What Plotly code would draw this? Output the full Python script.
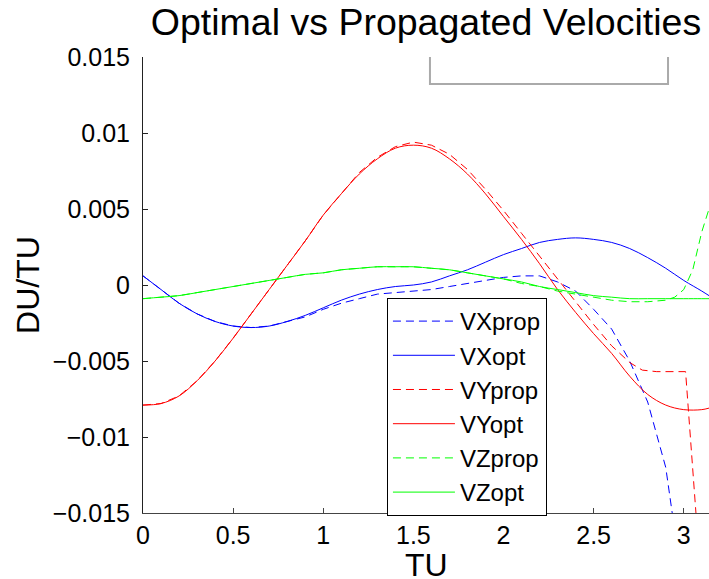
import plotly.graph_objects as go

# ---- data ----
t_opt = [0.0, 0.1, 0.2, 0.3, 0.4, 0.5, 0.6, 0.7, 0.8, 0.9, 1.0, 1.1, 1.2, 1.3, 1.4, 1.5,
         1.6, 1.7, 1.8, 1.9, 2.0, 2.1, 2.2, 2.3, 2.4, 2.5, 2.6, 2.7, 2.8, 2.9, 3.0, 3.1, 3.14]

vx_opt = [0.0006, -0.0003, -0.0012, -0.0019, -0.0024, -0.0027, -0.0028, -0.0027, -0.0024,
          -0.0020, -0.0015, -0.0010, -0.0006, -0.0003, -0.0001, 0.0000, 0.0002, 0.0006,
          0.0010, 0.0015, 0.0020, 0.0024, 0.0028, 0.0030, 0.0031, 0.0030, 0.0028, 0.0024,
          0.0018, 0.0011, 0.0003, -0.0004, -0.0007]

vy_opt = [-0.0079, -0.0078, -0.0073, -0.0063, -0.0050, -0.0035, -0.0019, -0.0003, 0.0013,
          0.0029, 0.0046, 0.0060, 0.0073, 0.0083, 0.0090, 0.0092, 0.0090, 0.0083, 0.0073,
          0.0060, 0.0045, 0.0030, 0.0014, -0.0003, -0.0018, -0.0032, -0.0045, -0.0060,
          -0.0072, -0.0079, -0.0082, -0.0082, -0.0081]

vz_opt = [-0.0009, -0.0008, -0.0007, -0.0005, -0.0003, -0.0001, 0.0001, 0.0003, 0.0005,
          0.0007, 0.0008, 0.0010, 0.0011, 0.0012, 0.0012, 0.0012, 0.0011, 0.0010, 0.0008,
          0.0006, 0.0004, 0.0002, -0.0001, -0.0003, -0.0005, -0.0007, -0.0008, -0.0009,
          -0.0009, -0.0009, -0.0009, -0.0009, -0.0009]

t_vx_prop = [0.0, 0.1, 0.2, 0.3, 0.4, 0.5, 0.6, 0.7, 0.8, 0.9, 1.0, 1.1, 1.2, 1.3, 1.4, 1.5,
             1.6, 1.7, 1.8, 1.9, 2.0, 2.1, 2.2, 2.3, 2.4, 2.5, 2.6, 2.7, 2.8, 2.9, 2.93, 2.96]
vx_prop = [0.0006, -0.0003, -0.0012, -0.0019, -0.0024, -0.0027, -0.0028, -0.0027, -0.0024,
           -0.0021, -0.0016, -0.0012, -0.0009, -0.0006, -0.0005, -0.0004, -0.0003, -0.0001,
           0.0001, 0.0003, 0.0005, 0.0006, 0.0006, 0.0002, -0.0004, -0.0016, -0.0029,
           -0.0050, -0.0077, -0.0120, -0.0146, -0.0170]

t_vy_prop = [0.0, 0.1, 0.2, 0.3, 0.4, 0.5, 0.6, 0.7, 0.8, 0.9, 1.0, 1.1, 1.2, 1.3, 1.4, 1.5,
             1.6, 1.7, 1.8, 1.9, 2.0, 2.1, 2.2, 2.3, 2.4, 2.5, 2.6, 2.7, 2.77, 2.85, 3.01, 3.08]
vy_prop = [-0.0079, -0.0078, -0.0073, -0.0063, -0.0050, -0.0035, -0.0019, -0.0003, 0.0013,
           0.0029, 0.0046, 0.0060, 0.0074, 0.0084, 0.0091, 0.0094, 0.0092, 0.0086, 0.0076,
           0.0063, 0.0049, 0.0034, 0.0019, 0.0004, -0.0011, -0.0026, -0.0040, -0.0051,
           -0.0056, -0.0057, -0.0057, -0.0170]

t_vz_prop = [0.0, 0.1, 0.2, 0.3, 0.4, 0.5, 0.6, 0.7, 0.8, 0.9, 1.0, 1.1, 1.2, 1.3, 1.4, 1.5,
             1.6, 1.7, 1.8, 1.9, 2.0, 2.1, 2.2, 2.3, 2.4, 2.5, 2.6, 2.7, 2.8, 2.9, 2.95,
             3.0, 3.05, 3.1, 3.14]
vz_prop = [-0.0009, -0.0008, -0.0007, -0.0005, -0.0003, -0.0001, 0.0001, 0.0003, 0.0005,
           0.0007, 0.0008, 0.0010, 0.0011, 0.0012, 0.0012, 0.0012, 0.0011, 0.0010, 0.0008,
           0.0006, 0.0004, 0.0001, -0.0001, -0.0004, -0.0006, -0.0008, -0.0010, -0.0011,
           -0.0011, -0.0010, -0.0008, -0.0003, 0.0010, 0.0035, 0.0050]

y_tickvals = [-0.015, -0.01, -0.005, 0, 0.005, 0.01, 0.015]
y_ticktext = ["\u22120.015", "\u22120.01", "\u22120.005", "0", "0.005", "0.01", "0.015"]
x_tickvals = [0, 0.5, 1, 1.5, 2, 2.5, 3]
x_ticktext = ["0", "0.5", "1", "1.5", "2", "2.5", "3"]

BLUE, RED, GREEN = "#0000ff", "#ff0000", "#00ff00"
DASH = "8px,5px"
FONT = "Liberation Sans, Arial, sans-serif"

fig = go.Figure()
fig.add_trace(go.Scatter(x=t_vx_prop, y=vx_prop, mode="lines", name="VXprop",
                         line=dict(color=BLUE, width=1, dash=DASH)))
fig.add_trace(go.Scatter(x=t_opt, y=vx_opt, mode="lines", name="VXopt",
                         line=dict(color=BLUE, width=1), line_shape="spline"))
fig.add_trace(go.Scatter(x=t_vy_prop, y=vy_prop, mode="lines", name="VYprop",
                         line=dict(color=RED, width=1, dash=DASH)))
fig.add_trace(go.Scatter(x=t_opt, y=vy_opt, mode="lines", name="VYopt",
                         line=dict(color=RED, width=1), line_shape="spline"))
fig.add_trace(go.Scatter(x=t_vz_prop, y=vz_prop, mode="lines", name="VZprop",
                         line=dict(color=GREEN, width=1, dash=DASH)))
fig.add_trace(go.Scatter(x=t_opt, y=vz_opt, mode="lines", name="VZopt",
                         line=dict(color=GREEN, width=1), line_shape="spline"))

fig.update_layout(
    width=709, height=579,
    margin=dict(l=143, r=0, t=57, b=66),
    paper_bgcolor="white", plot_bgcolor="white",
    font=dict(family=FONT, color="black", size=25),
    title=dict(text="Optimal vs Propagated Velocities", x=0.5, xref="paper",
               y=0.962, yref="container", yanchor="middle",
               font=dict(size=37.5, family=FONT, color="black")),
    xaxis=dict(range=[0, 3.14], tickvals=x_tickvals, ticktext=x_ticktext,
               ticks="inside", ticklen=5, tickcolor="#444", tickwidth=1,
               showline=True, linecolor="#444", linewidth=1, mirror=False,
               showgrid=False, zeroline=False, automargin=False,
               tickfont=dict(size=25), ticklabelstandoff=0),
    yaxis=dict(range=[-0.015, 0.015], tickvals=y_tickvals, ticktext=y_ticktext,
               ticks="inside", ticklen=5, tickcolor="#222", tickwidth=1,
               showline=True, linecolor="#222", linewidth=1, mirror=False,
               showgrid=False, zeroline=False, automargin=False,
               tickfont=dict(size=25), ticklabelstandoff=7,
               title=dict(text="DU/TU", font=dict(size=32), standoff=3)),
    legend=dict(x=0.431, y=0.4715, xanchor="left", yanchor="top",
                bgcolor="white", bordercolor="black", borderwidth=1,
                font=dict(size=24, family=FONT), tracegroupgap=0,
                itemwidth=62),
    showlegend=True,
)

# x-axis title placed as in the reference
fig.add_annotation(text="TU", xref="paper", yref="paper", x=0.5, y=-0.115,
                   xanchor="center", yanchor="middle", showarrow=False,
                   font=dict(size=32, family=FONT, color="black"))

# light gray bracket near the top of the axes
fig.add_shape(type="path", xref="paper", yref="paper",
              path="M 0.507 1.0 L 0.507 0.9408 L 0.9276 0.9408 L 0.9276 1.0",
              line=dict(color="#aaaaaa", width=2))

fig.write_html("out.html")
